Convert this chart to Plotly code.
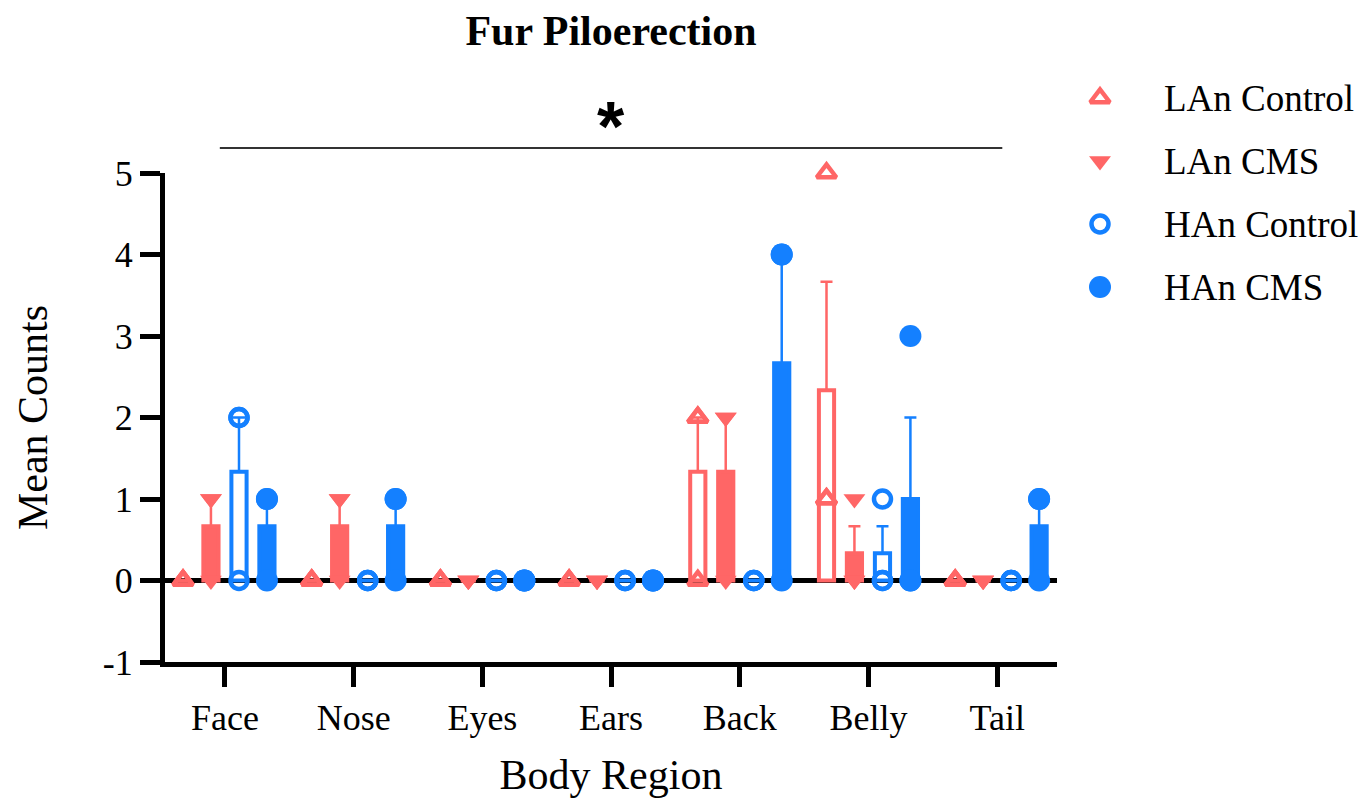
import numpy as np
import plotly.graph_objects as go

# Body regions (x categories)
regions = ["Face", "Nose", "Eyes", "Ears", "Back", "Belly", "Tail"]

# Individual animal counts per region (n = 3 per group)
lan_control = [[0, 0, 0], [0, 0, 0], [0, 0, 0], [0, 0, 0], [0, 2, 2], [1, 1, 5], [0, 0, 0]]
lan_cms = [[0, 1, 1], [0, 1, 1], [0, 0, 0], [0, 0, 0], [0, 2, 2], [0, 0, 1], [0, 0, 0]]
han_control = [[0, 2, 2], [0, 0, 0], [0, 0, 0], [0, 0, 0], [0, 0, 0], [0, 0, 1], [0, 0, 0]]
han_cms = [[0, 1, 1], [0, 1, 1], [0, 0, 0], [0, 0, 0], [0, 4, 4], [0, 0, 3], [0, 1, 1]]

group_names = ["LAn Control", "LAn CMS", "HAn Control", "HAn CMS"]
y_ticks = [-1, 0, 1, 2, 3, 4, 5]
y_tick_text = ["-1", "0", "1", "2", "3", "4", "5"]

RED = "#FF6666"
BLUE = "#1480FF"
SERIF = "Liberation Serif, Times New Roman, serif"

groups = [
    dict(name=group_names[0], data=lan_control, color=RED, hollow=True,
         symbol="triangle-up-open", size=17),
    dict(name=group_names[1], data=lan_cms, color=RED, hollow=False,
         symbol="triangle-down", size=19),
    dict(name=group_names[2], data=han_control, color=BLUE, hollow=True,
         symbol="circle-open", size=17),
    dict(name=group_names[3], data=han_cms, color=BLUE, hollow=False,
         symbol="circle", size=22),
]
offsets = [-0.326, -0.109, 0.109, 0.326]
bar_width = 0.118
HOLLOW_STROKE = 4.5

# Figure geometry (pixels)
W, H = 1372, 798
M_L, M_R, M_T, M_B = 165, 0, 40, 136
PLOT_W, PLOT_H = 892, 489
paper_w = W - M_L - M_R
paper_h = H - M_T - M_B
x_dom_end = PLOT_W / paper_w
y_dom_end = PLOT_H / paper_h

fig = go.Figure()

# Bars: group mean with upward SEM whisker
for g, off in zip(groups, offsets):
    arr = np.array(g["data"], dtype=float)
    means = arr.mean(axis=1)
    sem = arr.std(axis=1, ddof=1) / np.sqrt(arr.shape[1])
    xs = np.arange(len(regions)) + off
    fig.add_trace(go.Bar(
        x=xs, y=means, width=bar_width,
        marker=dict(color="white" if g["hollow"] else g["color"],
                    line=dict(color=g["color"], width=4)),
        error_y=dict(type="data", symmetric=False, array=sem,
                     arrayminus=np.zeros_like(sem), color=g["color"],
                     thickness=2.5, width=6),
        showlegend=False, hoverinfo="skip",
    ))

# Individual points on top of the bars
for g, off in zip(groups, offsets):
    px, py = [], []
    for i, vals in enumerate(g["data"]):
        for v in vals:
            px.append(i + off)
            py.append(v)
    fig.add_trace(go.Scatter(
        x=px, y=py, mode="markers", name=g["name"], showlegend=False,
        marker=dict(symbol=g["symbol"], size=g["size"], color=g["color"],
                    line=dict(color=g["color"], width=HOLLOW_STROKE if g["hollow"] else 0)),
        cliponaxis=False,
    ))

# Key drawn on its own hidden axes to the right of the plot
# (axis units are pixels: x from the key's left edge, y up from the plot bottom)
key_left = 1060
key_marker_x = 1100 - key_left
key_text_x = 1162 - key_left
key_rows = [662 - (98 + 63 * i) for i in range(len(groups))]
for g, ky in zip(groups, key_rows):
    fig.add_trace(go.Scatter(
        x=[key_marker_x], y=[ky], mode="markers", xaxis="x2", yaxis="y2",
        marker=dict(symbol=g["symbol"], size=g["size"], color=g["color"],
                    line=dict(color=g["color"], width=HOLLOW_STROKE if g["hollow"] else 0)),
        showlegend=False, hoverinfo="skip", cliponaxis=False,
    ))
    fig.add_annotation(x=key_text_x, y=ky, xref="x2", yref="y2", text=g["name"],
                       showarrow=False, xanchor="left", yanchor="middle",
                       font=dict(family=SERIF, size=37, color="black"))

# Significance bracket across all regions
fig.add_shape(type="line", xref="x", yref="y domain", x0=-0.04, x1=len(regions) - 1 + 0.04,
              y0=1.051, y1=1.051, line=dict(color="#333333", width=2))
fig.add_annotation(x=(len(regions) - 1) / 2, y=1.095, xref="x", yref="y domain",
                   text="<b>*</b>", showarrow=False, yanchor="middle",
                   font=dict(family="Liberation Sans, Arial, sans-serif", size=70, color="black"))

fig.update_layout(
    width=W, height=H,
    margin=dict(l=M_L, r=M_R, t=M_T, b=M_B),
    paper_bgcolor="white", plot_bgcolor="white",
    barmode="overlay",
    showlegend=False,
    font=dict(family=SERIF, color="black"),
    title=dict(text="<b>Fur Piloerection</b>", xref="container", x=611 / W, xanchor="center",
               y=0.962, yanchor="middle", font=dict(family=SERIF, size=42, color="black")),
    xaxis=dict(domain=[0, x_dom_end], range=[-0.466, 6.465], tickmode="array",
               tickvals=list(range(len(regions))), ticktext=regions,
               ticks="outside", ticklen=20, tickwidth=5, tickcolor="black",
               showline=True, linewidth=5, linecolor="black",
               showgrid=False, zeroline=False,
               tickfont=dict(family=SERIF, size=36, color="black"),
               title=dict(text="Body Region", standoff=24,
                          font=dict(family=SERIF, size=42, color="black"))),
    yaxis=dict(domain=[0, y_dom_end], range=[-1, 5], tickmode="array",
               tickvals=y_ticks, ticktext=y_tick_text,
               ticks="outside", ticklen=20, tickwidth=5, tickcolor="black",
               showline=True, linewidth=5, linecolor="black",
               showgrid=False, zeroline=True, zerolinewidth=5, zerolinecolor="black",
               tickfont=dict(family=SERIF, size=36, color="black"),
               title=dict(text="Mean Counts", standoff=44,
                          font=dict(family=SERIF, size=42, color="black"))),
    xaxis2=dict(domain=[(key_left - M_L) / paper_w, 1], range=[0, W - key_left],
                visible=False, fixedrange=True),
    yaxis2=dict(domain=[0, 1], range=[0, paper_h], anchor="x2",
                visible=False, fixedrange=True),
)

fig.write_html("out.html")
